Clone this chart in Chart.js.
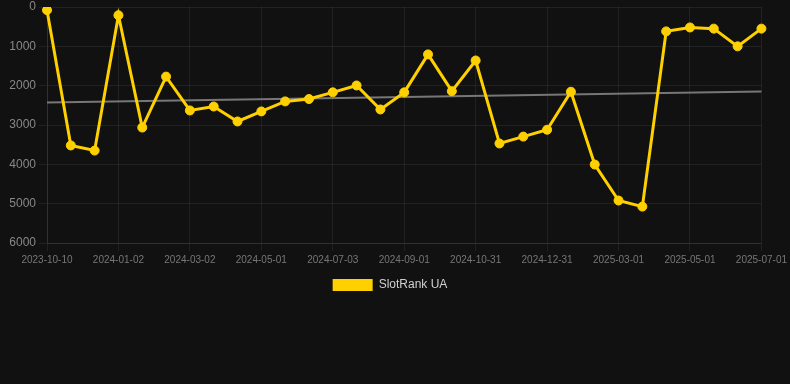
<!DOCTYPE html>
<html>
<head>
<meta charset="utf-8">
<script src="https://cdn.jsdelivr.net/npm/chart.js@4"></script>
<style>
    html, body { margin: 0; padding: 0; background: #111111; }
    #wrap { position: relative; width: 790px; height: 301px; }
</style>
</head>
<body>
<div id="wrap"><canvas id="rankChart"></canvas></div>
<script>
// dates of each sample (only every third one is shown on the axis)
const dates = [
    '2023-10-10', '2023-11-07', '2023-12-05',
    '2024-01-02', '2024-01-22', '2024-02-11',
    '2024-03-02', '2024-03-22', '2024-04-11',
    '2024-05-01', '2024-05-22', '2024-06-12',
    '2024-07-03', '2024-07-23', '2024-08-12',
    '2024-09-01', '2024-09-21', '2024-10-11',
    '2024-10-31', '2024-11-20', '2024-12-10',
    '2024-12-31', '2025-01-20', '2025-02-09',
    '2025-03-01', '2025-03-21', '2025-04-10',
    '2025-05-01', '2025-05-21', '2025-06-10',
    '2025-07-01'
];

// rank values
const rankUA = [
    80, 3520, 3650, 210, 3065, 1770, 2630, 2530, 2910, 2655,
    2400, 2340, 2170, 1995, 2605, 2170, 1205, 2140, 1360, 3470,
    3295, 3120, 2155, 4005, 4920, 5075, 620, 520, 550, 1000,
    550
];

// trend line, only the two end values
const trend = [2427].concat(new Array(29).fill(null), [2148]);

const yTicks = { min: 0, max: 6000, step: 1000 };

const gridColor = 'rgba(255,255,255,0.07)';
const fontFamily = 'Liberation Sans, Arial, sans-serif';

const ctx = document.getElementById('rankChart').getContext('2d');
new Chart(ctx, {
    type: 'line',
    data: {
        labels: dates,
        datasets: [
            {
                label: 'SlotRank UA',
                data: rankUA,
                borderColor: '#FFD000',
                backgroundColor: '#FFD000',
                borderWidth: 3,
                pointRadius: 4.5,
                pointHoverRadius: 4.5,
                pointBorderWidth: 1,
                pointBackgroundColor: '#FFD000',
                pointBorderColor: '#FFD000',
                tension: 0,
                fill: false,
            },
            {
                label: 'trend',
                data: trend,
                borderColor: '#777777',
                backgroundColor: '#777777',
                borderWidth: 2,
                pointRadius: 0,
                spanGaps: true,
                fill: false,
            },
        ],
    },
    options: {
        responsive: true,
        maintainAspectRatio: false,
        animation: false,
        layout: {
            padding: { top: 0, left: 0, right: 10, bottom: 0 },
        },
        plugins: {
            legend: {
                position: 'bottom',
                labels: {
                    color: '#d0d0d0',
                    font: { family: fontFamily, size: 12 },
                    boxWidth: 40,
                    boxHeight: 12,
                    generateLabels: (chart) => {
                        const items = Chart.defaults.plugins.legend.labels.generateLabels(chart);
                        return items
                            .filter(item => item.text !== 'trend')
                            .map(item => Object.assign(item, { lineWidth: 0 }));
                    },
                },
            },
            tooltip: { enabled: false },
        },
        scales: {
            x: {
                offset: false,
                grid: { color: gridColor, drawTicks: true },
                border: { color: gridColor },
                ticks: {
                    color: '#777777',
                    font: { family: fontFamily, size: 10 },
                    autoSkip: true,
                    maxTicksLimit: 11,
                    maxRotation: 0,
                    minRotation: 0,
                },
            },
            y: {
                reverse: true,
                min: yTicks.min,
                max: yTicks.max,
                afterFit: (scale) => {
                    scale.width = 47;
                    scale.paddingTop = 7;
                },
                grid: { color: gridColor },
                border: { color: gridColor },
                ticks: {
                    stepSize: yTicks.step,
                    color: '#888888',
                    font: { family: fontFamily, size: 12, lineHeight: 1 },
                    callback: (value) => String(value),
                },
            },
        },
    },
});
</script>
</body>
</html>
